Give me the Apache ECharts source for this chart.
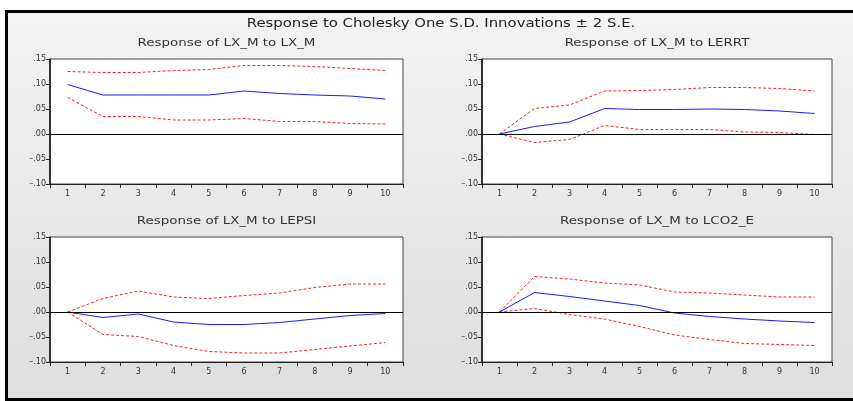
<!DOCTYPE html>
<html>
<head>
<meta charset="utf-8">
<script src="https://cdn.jsdelivr.net/npm/echarts@6/dist/echarts.min.js"></script>
<style>
* { margin: 0; padding: 0; }
body { width: 853px; height: 401px; background: #ffffff; position: relative; overflow: hidden; }
#frame {
    position: absolute; left: 5px; top: 10px; width: 845px; height: 385px;
    border-left: 3px solid #000; border-top: 3px solid #000; border-bottom: 3px solid #000;
    background: linear-gradient(#f3f3f3, #dedede);
}
#chart { position: absolute; left: 0; top: 0; width: 853px; height: 401px; }
</style>
</head>
<body>
<div id="frame"></div>
<div id="chart"></div>
<script>
// periods
const periods = ['1', '2', '3', '4', '5', '6', '7', '8', '9', '10'];

// Response of LX_M to LX_M
const lxmResp  = [0.099, 0.078, 0.078, 0.078, 0.078, 0.086, 0.081, 0.078, 0.076, 0.070];
const lxmUpper = [0.125, 0.123, 0.123, 0.127, 0.129, 0.137, 0.137, 0.135, 0.131, 0.127];
const lxmLower = [0.073, 0.035, 0.035, 0.028, 0.028, 0.031, 0.025, 0.025, 0.021, 0.020];

// Response of LX_M to LERRT
const lerrtResp  = [0, 0.015, 0.024, 0.051, 0.049, 0.049, 0.050, 0.049, 0.046, 0.041];
const lerrtUpper = [0, 0.051, 0.058, 0.086, 0.087, 0.089, 0.093, 0.093, 0.091, 0.086];
const lerrtLower = [0, -0.017, -0.011, 0.017, 0.009, 0.009, 0.009, 0.004, 0.003, -0.001];

// Response of LX_M to LEPSI
const lepsiResp  = [0, -0.011, -0.004, -0.020, -0.025, -0.025, -0.021, -0.014, -0.007, -0.003];
const lepsiUpper = [0, 0.027, 0.042, 0.030, 0.027, 0.033, 0.038, 0.049, 0.056, 0.056];
const lepsiLower = [0, -0.045, -0.049, -0.067, -0.079, -0.082, -0.082, -0.075, -0.068, -0.061];

// Response of LX_M to LCO2_E
const lco2Resp  = [0, 0.039, 0.031, 0.022, 0.013, -0.002, -0.009, -0.014, -0.018, -0.021];
const lco2Upper = [0, 0.071, 0.066, 0.058, 0.054, 0.040, 0.038, 0.034, 0.030, 0.030];
const lco2Lower = [0, 0.007, -0.005, -0.014, -0.029, -0.046, -0.055, -0.063, -0.065, -0.067];

const panels = [
    { title: 'Response of LX_M to LX_M',   resp: lxmResp,   upper: lxmUpper,   lower: lxmLower,   left: 50,  top: 59,  width: 353 },
    { title: 'Response of LX_M to LERRT',  resp: lerrtResp, upper: lerrtUpper, lower: lerrtLower, left: 482, top: 59,  width: 350 },
    { title: 'Response of LX_M to LEPSI',  resp: lepsiResp, upper: lepsiUpper, lower: lepsiLower, left: 50,  top: 237, width: 353 },
    { title: 'Response of LX_M to LCO2_E', resp: lco2Resp,  upper: lco2Upper,  lower: lco2Lower,  left: 482, top: 237, width: 350 }
];

const fontFam = 'DejaVu Sans, Arial, sans-serif';

const yFmt = (v) => {
    const s = Math.abs(v).toFixed(2).replace(/^0/, '');
    return v < -1e-9 ? '\u2013' + s : s;
};

// titles as graphic text so they can be stretched a bit wider, like the original
const graphics = [{
    type: 'text', x: 441, y: 24, scaleX: 1.24,
    style: {
        text: 'Response to Cholesky One S.D. Innovations \u00b1 2 S.E.',
        fontFamily: fontFam, fontSize: 12, fill: '#222',
        align: 'center', verticalAlign: 'middle'
    }
}];
const grids = [], xAxes = [], yAxes = [], series = [];

panels.forEach((p, i) => {
    graphics.push({
        type: 'text', x: p.left + p.width / 2, y: p.top - 16, scaleX: 1.22,
        style: {
            text: p.title, fontFamily: fontFam, fontSize: 11, fill: '#333',
            align: 'center', verticalAlign: 'middle'
        }
    });
    grids.push({
        left: p.left, top: p.top, width: p.width, height: 125,
        show: true, backgroundColor: '#ffffff', borderColor: '#444', borderWidth: 1
    });
    xAxes.push({
        type: 'category', gridIndex: i, data: periods, boundaryGap: true,
        axisLine: { onZero: false, lineStyle: { color: '#222', width: 1 } },
        axisTick: { show: true, length: 4, inside: false, lineStyle: { color: '#222' } },
        axisLabel: { fontFamily: fontFam, fontSize: 8, color: '#333', margin: 6 },
        splitLine: { show: false }
    });
    yAxes.push({
        type: 'value', gridIndex: i, min: -0.1, max: 0.15, interval: 0.05,
        axisLine: { show: true, lineStyle: { color: '#111', width: 1.5 } },
        axisTick: { show: true, length: 4, inside: false, lineStyle: { color: '#222' } },
        axisLabel: { fontFamily: fontFam, fontSize: 8, color: '#333', margin: 4, formatter: yFmt },
        splitLine: { show: false }
    });
    series.push({
        type: 'line', xAxisIndex: i, yAxisIndex: i, data: p.upper,
        symbol: 'none', animation: false,
        lineStyle: { color: '#ff2020', width: 1, type: [3, 2] }
    });
    series.push({
        type: 'line', xAxisIndex: i, yAxisIndex: i, data: p.lower,
        symbol: 'none', animation: false,
        lineStyle: { color: '#ff2020', width: 1, type: [3, 2] }
    });
    series.push({
        type: 'line', xAxisIndex: i, yAxisIndex: i, data: p.resp,
        symbol: 'none', animation: false,
        lineStyle: { color: '#1a1aff', width: 1 },
        markLine: {
            silent: true, symbol: 'none', animation: false,
            label: { show: false },
            lineStyle: { color: '#000', width: 1, type: 'solid' },
            data: [{ yAxis: 0 }]
        }
    });
});

const chart = echarts.init(document.getElementById('chart'));
chart.setOption({
    backgroundColor: 'transparent',
    animation: false,
    graphic: graphics,
    grid: grids,
    xAxis: xAxes,
    yAxis: yAxes,
    series: series
});
</script>
</body>
</html>
